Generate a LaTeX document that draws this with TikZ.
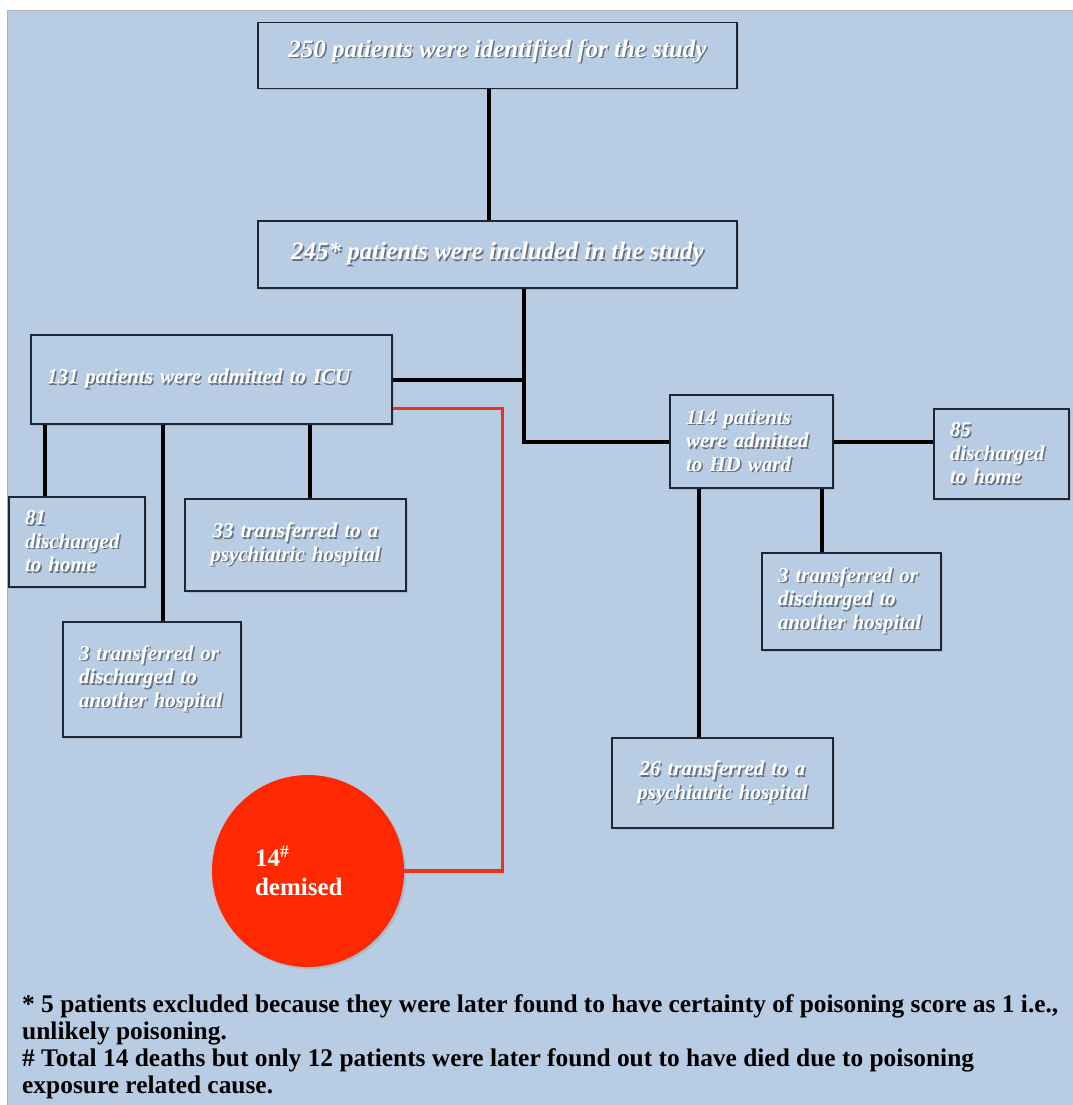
\documentclass[tikz,border=0pt]{standalone}
\usepackage{fontspec}
\setmainfont{Liberation Serif}
\usetikzlibrary{calc,shadows,positioning}

\definecolor{bgblue}{RGB}{184,204,228}
\definecolor{boxline}{RGB}{30,38,52}
\definecolor{deadred}{RGB}{255,40,0}
\definecolor{redline}{RGB}{232,52,28}
% white text with a soft grey shadow
\newcommand{\sh}[1]{\leavevmode\rlap{\kern1.5pt\raisebox{-1.5pt}{\textcolor{bgblue!55!black}{#1}}}#1}

\begin{document}
\begin{tikzpicture}[x=1pt,y=-1pt,
    stage/.style={draw=boxline, line width=1.6pt, fill=bgblue, text=white,
        font=\fontsize{25}{29}\selectfont\bfseries\itshape,
        drop shadow={shadow xshift=2pt, shadow yshift=-2pt, opacity=0.25},
        minimum width=479pt, minimum height=66pt, inner sep=0pt},
    outcome/.style={stage, minimum width=0pt, inner xsep=16pt, align=left,
        font=\fontsize{21}{23.5}\selectfont\bfseries\itshape},
    link/.style={draw=black, line width=4pt},
    deathlink/.style={draw=redline, line width=3.2pt}
    ]
    \useasboundingbox (0,0) rectangle (1072,1105);
    \fill[white] (0,0) rectangle (1072,1105);
    \filldraw[fill=bgblue, draw=black!30, line width=0.8pt] (7,10) rectangle (1073,1106);
    
    % study population
    \node[stage, text depth=14pt] (found) at (497.5,55.5) {\sh{250 patients were identified for the study}};
    \node[stage, minimum height=67pt] (incl) at (497.5,254.5) {\sh{245* patients were included in the study}};
    
    % ICU arm
    \node[outcome, text width=329pt, minimum height=89pt] (icu) at (211.5,379.5) {\sh{131 patients were admitted to ICU}};
    \node[outcome, text width=104pt, minimum height=90pt] (home81) at (77,542) {\sh{81}\\\sh{discharged}\\\sh{to home}};
    \node[outcome, text width=189pt, minimum height=92pt, align=center] (psy33) at (295.5,545) {\sh{33 transferred to a}\\\sh{psychiatric hospital}};
    \node[outcome, text width=146pt, minimum height=115pt] (icu3) at (152,679.5) {\sh{3 transferred or}\\\sh{discharged to}\\\sh{another hospital}};
    \node[circle, fill=deadred, minimum size=192pt, inner sep=0pt, text=white, align=left, text width=106pt,
        font=\fontsize{25}{29}\selectfont\bfseries,
        drop shadow={shadow xshift=2pt, shadow yshift=-2pt, opacity=0.25}] (dead) at (308,871) {14\textsuperscript{\#}\\demised};
    
    % HD ward arm
    \node[outcome, text width=131pt, minimum height=93pt] (hd) at (751.5,441.5) {\sh{114 patients}\\\sh{were admitted}\\\sh{to HD ward}};
    \node[outcome, text width=103pt, minimum height=90pt] (home85) at (1001.5,454) {\sh{85}\\\sh{discharged}\\\sh{to home}};
    \node[outcome, text width=147pt, minimum height=97pt] (hd3) at (851.5,601.5) {\sh{3 transferred or}\\\sh{discharged to}\\\sh{another hospital}};
    \node[outcome, text width=189pt, minimum height=90pt, align=center] (psy26) at (722.5,783) {\sh{26 transferred to a}\\\sh{psychiatric hospital}};
    
    % footnotes
    \node[anchor=north west, inner sep=0pt, align=left, font=\fontsize{25.4}{27}\selectfont\bfseries] (note) at (22,994)
    {* 5 patients excluded because they were later found to have certainty of poisoning score as 1 i.e.,\\
     unlikely poisoning.\\
     \# Total 14 deaths but only 12 patients were later found out to have died due to poisoning\\
     exposure related cause.};
    
    % connectors
    \coordinate (split) at (524,442);
    \draw[link] ($(found.south)+(-9,0)$) coordinate (t1) -- (t1 |- incl.north);
    \draw[link] (incl.south -| split) -- (split) -- (split -| hd.west);
    \draw[link] (icu.east) -- (icu.east -| split);
    \draw[link] ($(icu.south west)!0.04!(icu.south east)$) coordinate (i1) -- (i1 |- home81.north);
    \draw[link] ($(icu.south west)!0.365!(icu.south east)$) coordinate (i2) -- (i2 |- icu3.north);
    \draw[link] ($(icu.south west)!0.773!(icu.south east)$) coordinate (i3) -- (i3 |- psy33.north);
    \draw[link] (hd.east) -- (hd.east -| home85.west);
    \draw[link] ($(hd.south west)!0.18!(hd.south east)$) coordinate (h1) -- (h1 |- psy26.north);
    \draw[link] ($(hd.south west)!0.93!(hd.south east)$) coordinate (h2) -- (h2 |- hd3.north);
    \draw[deathlink] ($(icu.north east)!0.82!(icu.south east)$) -- ++(110,0) |- (dead.east);
    
\end{tikzpicture}
\end{document}
